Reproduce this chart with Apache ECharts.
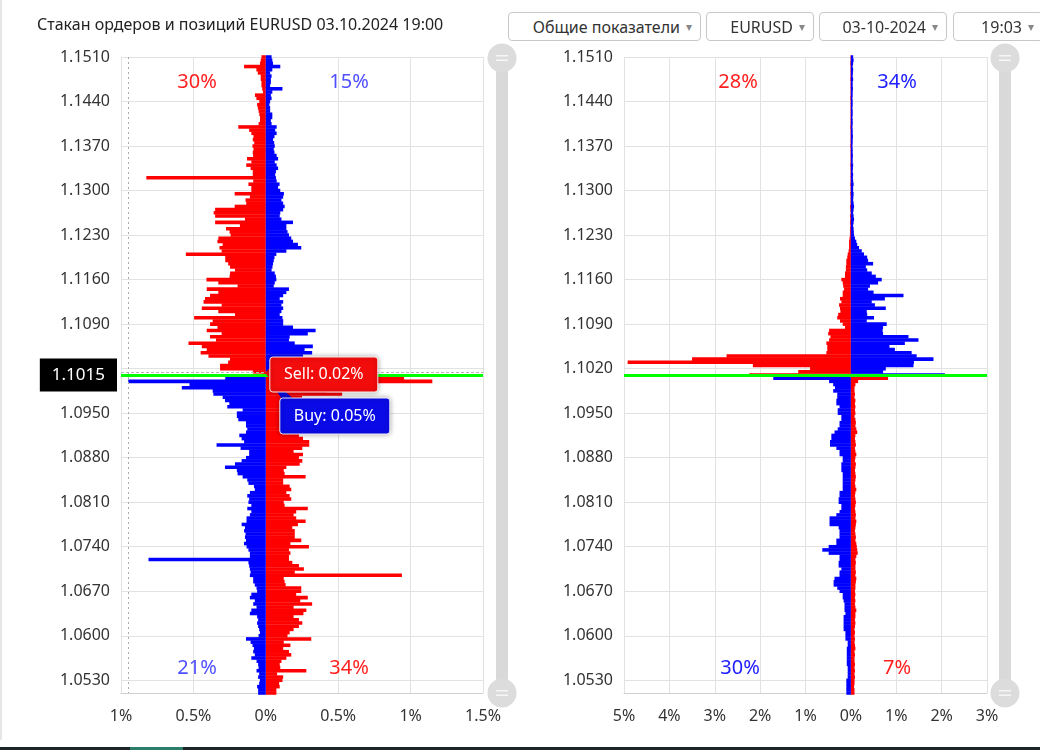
<!DOCTYPE html>
<html>
<head>
<meta charset="utf-8">
<title>Стакан ордеров и позиций EURUSD</title>
<script src="https://cdn.jsdelivr.net/npm/echarts@6/dist/echarts.min.js"></script>
<style>
  html, body { margin: 0; padding: 0; background: #fff; }
  #wrap { position: relative; width: 1040px; height: 750px; overflow: hidden; font-family: "Noto Sans", sans-serif; }
  #chart { width: 1040px; height: 750px; }
  #edge { position: absolute; left: 0; top: 0; width: 2px; height: 740px; background: #e6e6e6; }
  #strip { position: absolute; left: 0; bottom: 0; width: 1040px; height: 3px; background: #1d2626; }
  #strip i { position: absolute; left: 130px; width: 53px; height: 3px; background: #2b7d6c; }
  .sel {
    position: absolute; top: 12px; height: 29px; box-sizing: border-box;
    border: 1px solid #c8c8c8; border-radius: 4px; background: #fff;
    color: #333; font-size: 16px; line-height: 27px; white-space: nowrap;
    text-align: right; padding-right: 8px;
  }
  .sel:after { content: "\25BE"; color: #888; font-size: 12px; margin-left: 6px; vertical-align: 2px; }
</style>
</head>
<body>
<div id="wrap">
  <div id="chart"></div>
  <div id="edge"></div>
  <div class="sel" style="left:508px;width:193px;">Общие показатели</div>
  <div class="sel" style="left:706px;width:108px;">EURUSD</div>
  <div class="sel" style="left:819px;width:128px;">03-10-2024</div>
  <div class="sel" style="left:953px;width:90px;">19:03</div>
  <div id="strip"><i></i></div>
</div>
<script>
// ценовые уровни сверху вниз, шаг 0.0005
const prices = [];
for (let i = 0; i <= 200; i++) prices.push((1.1510 - i * 0.0005).toFixed(4));
const yTicks = ['1.1510', '1.1440', '1.1370', '1.1300', '1.1230', '1.1160', '1.1090', '1.1020',
  '1.0950', '1.0880', '1.0810', '1.0740', '1.0670', '1.0600', '1.0530'];
const currentPrice = '1.1015';
const lastRow = '1.1010';

// ордера, % (сверху вниз)
const ordersSell = [
  0.03, 0.035, 0.04, 0.15, 0.065, 0.055, 0.035, 0.035, 0.03, 0.03,
  0.025, 0.02, 0.075, 0.065, 0.045, 0.06, 0.055, 0.05, 0.045, 0.04,
  0.04, 0.05, 0.19, 0.115, 0.1, 0.085, 0.09, 0.08, 0.092, 0.085,
  0.09, 0.088, 0.13, 0.1, 0.135, 0.105, 0.09, 0.09, 0.825, 0.087,
  0.12, 0.1, 0.1, 0.215, 0.11, 0.14, 0.135, 0.215, 0.35, 0.36,
  0.35, 0.144, 0.35, 0.179, 0.275, 0.25, 0.243, 0.328, 0.334, 0.298,
  0.32, 0.305, 0.552, 0.28, 0.28, 0.26, 0.247, 0.213, 0.247, 0.25,
  0.41, 0.328, 0.195, 0.408, 0.328, 0.385, 0.42, 0.43, 0.305, 0.442,
  0.328, 0.213, 0.495, 0.367, 0.385, 0.334, 0.408, 0.305, 0.385, 0.344,
  0.534, 0.442, 0.408, 0.45, 0.396, 0.247, 0.26, 0.316, 0.316, 0.09,
  0.02, 0.955, 1.15, 0.3, 0.35, 0.42, 0.527, 0.25, 0.22, 0.26,
  0.2, 0.24, 0.22, 0.2, 0.25, 0.22, 0.23, 0.2, 0.25, 0.229,
  0.257, 0.3, 0.3, 0.252, 0.192, 0.257, 0.229, 0.252, 0.234, 0.142,
  0.124, 0.13, 0.275, 0.12, 0.12, 0.165, 0.176, 0.142, 0.165, 0.176,
  0.124, 0.13, 0.29, 0.21, 0.192, 0.21, 0.275, 0.222, 0.183, 0.2,
  0.2, 0.2, 0.245, 0.17, 0.298, 0.16, 0.17, 0.16, 0.16, 0.183,
  0.229, 0.263, 0.2, 0.94, 0.124, 0.13, 0.137, 0.245, 0.245, 0.21,
  0.29, 0.238, 0.32, 0.192, 0.28, 0.26, 0.192, 0.229, 0.252, 0.229,
  0.192, 0.165, 0.15, 0.314, 0.124, 0.17, 0.12, 0.16, 0.176, 0.142,
  0.108, 0.096, 0.1, 0.28, 0.078, 0.12, 0.115, 0.092, 0.096, 0.073,
  0.073
];
const ordersBuy = [
  0.04, 0.045, 0.05, 0.1, 0.045, 0.03, 0.04, 0.035, 0.035, 0.03,
  0.115, 0.045, 0.035, 0.04, 0.03, 0.025, 0.03, 0.03, 0.045, 0.045,
  0.035, 0.04, 0.075, 0.065, 0.075, 0.06, 0.05, 0.058, 0.062, 0.055,
  0.06, 0.075, 0.085, 0.062, 0.075, 0.085, 0.07, 0.065, 0.07, 0.075,
  0.095, 0.085, 0.1, 0.125, 0.12, 0.108, 0.12, 0.13, 0.12, 0.1,
  0.096, 0.108, 0.188, 0.142, 0.142, 0.15, 0.16, 0.176, 0.188, 0.222,
  0.245, 0.142, 0.073, 0.06, 0.055, 0.05, 0.046, 0.04, 0.062, 0.07,
  0.073, 0.062, 0.055, 0.16, 0.142, 0.12, 0.096, 0.12, 0.108, 0.12,
  0.108, 0.096, 0.115, 0.12, 0.12, 0.188, 0.344, 0.29, 0.165, 0.16,
  0.2, 0.325, 0.268, 0.32, 0.257, 0.2, 0.14, 0.09, 0.07, 0.02,
  0.05, 0.28, 0.95, 0.527, 0.58, 0.367, 0.362, 0.298, 0.282, 0.252,
  0.266, 0.16, 0.2, 0.2, 0.19, 0.137, 0.137, 0.128, 0.137, 0.183,
  0.167, 0.15, 0.34, 0.174, 0.115, 0.115, 0.137, 0.167, 0.213, 0.282,
  0.2, 0.195, 0.16, 0.128, 0.12, 0.082, 0.076, 0.11, 0.128, 0.115,
  0.12, 0.1, 0.128, 0.1, 0.11, 0.133, 0.133, 0.167, 0.144, 0.15,
  0.14, 0.144, 0.137, 0.151, 0.133, 0.12, 0.11, 0.11, 0.81, 0.12,
  0.115, 0.11, 0.105, 0.11, 0.087, 0.087, 0.076, 0.064, 0.06, 0.1,
  0.11, 0.076, 0.087, 0.064, 0.1, 0.11, 0.06, 0.053, 0.06, 0.053,
  0.046, 0.041, 0.05, 0.137, 0.105, 0.092, 0.082, 0.087, 0.076, 0.1,
  0.064, 0.053, 0.05, 0.064, 0.046, 0.053, 0.041, 0.046, 0.06, 0.053,
  0.053
];

// позиции, % (сверху вниз)
const positionsSell = [
  0.01, 0.01, 0.015, 0.01, 0.01, 0.01, 0.01, 0.015, 0.01, 0.01,
  0.01, 0.01, 0.01, 0.015, 0.01, 0.01, 0.01, 0.01, 0.01, 0.01,
  0.01, 0.01, 0.015, 0.01, 0.01, 0.01, 0.01, 0.01, 0.015, 0.01,
  0.01, 0.01, 0.01, 0.01, 0.015, 0.01, 0.01, 0.01, 0.01, 0.01,
  0.015, 0.01, 0.01, 0.015, 0.01, 0.01, 0.01, 0.02, 0.015, 0.01,
  0.02, 0.015, 0.02, 0.015, 0.02, 0.02, 0.02, 0.03, 0.04, 0.04,
  0.04, 0.05, 0.07, 0.08, 0.1, 0.1, 0.11, 0.11, 0.13, 0.13,
  0.21, 0.18, 0.17, 0.15, 0.18, 0.18, 0.24, 0.21, 0.26, 0.24,
  0.23, 0.28, 0.3, 0.24, 0.18, 0.13, 0.48, 0.5, 0.45, 0.48,
  0.54, 0.52, 0.52, 0.54, 2.74, 3.5, 4.92, 2.16, 0.9, 1.16,
  2.24, 0.82, 0.16, 0.1, 0.08, 0.08, 0.09, 0.08, 0.1, 0.09,
  0.1, 0.09, 0.1, 0.08, 0.1, 0.11, 0.1, 0.12, 0.14, 0.1,
  0.09, 0.1, 0.11, 0.09, 0.1, 0.12, 0.1, 0.09, 0.11, 0.1,
  0.09, 0.1, 0.11, 0.1, 0.09, 0.1, 0.12, 0.1, 0.09, 0.1,
  0.11, 0.1, 0.09, 0.1, 0.11, 0.1, 0.12, 0.11, 0.1, 0.09,
  0.1, 0.11, 0.1, 0.12, 0.13, 0.14, 0.15, 0.12, 0.1, 0.11,
  0.1, 0.1, 0.11, 0.1, 0.12, 0.11, 0.1, 0.1, 0.09, 0.1,
  0.09, 0.1, 0.09, 0.1, 0.12, 0.1, 0.1, 0.09, 0.1, 0.09,
  0.08, 0.09, 0.08, 0.09, 0.08, 0.09, 0.1, 0.08, 0.09, 0.08,
  0.08, 0.09, 0.08, 0.09, 0.08, 0.09, 0.08, 0.08, 0.07, 0.08,
  0.08
];
const positionsBuy = [
  0.05, 0.06, 0.05, 0.04, 0.05, 0.045, 0.04, 0.05, 0.04, 0.04,
  0.045, 0.04, 0.04, 0.035, 0.04, 0.04, 0.035, 0.04, 0.04, 0.035,
  0.04, 0.04, 0.035, 0.04, 0.04, 0.045, 0.04, 0.04, 0.035, 0.04,
  0.04, 0.045, 0.04, 0.04, 0.05, 0.045, 0.04, 0.05, 0.045, 0.05,
  0.06, 0.05, 0.05, 0.06, 0.055, 0.05, 0.06, 0.07, 0.06, 0.05,
  0.06, 0.07, 0.06, 0.05, 0.06, 0.065, 0.07, 0.09, 0.12, 0.14,
  0.18, 0.24, 0.29, 0.36, 0.38, 0.49, 0.33, 0.36, 0.46, 0.55,
  0.68, 0.6, 0.42, 0.38, 0.5, 1.16, 0.75, 0.46, 0.53, 0.77,
  0.35, 0.36, 0.51, 0.35, 0.79, 0.71, 0.7, 0.71, 1.27, 1.49,
  1.19, 0.85, 0.97, 1.34, 1.45, 1.82, 1.39, 1.38, 0.77, 0.71,
  2.07, 1.71, 0.48, 0.39, 0.35, 0.39, 0.3, 0.3, 0.32, 0.32,
  0.25, 0.29, 0.29, 0.21, 0.21, 0.25, 0.25, 0.29, 0.36, 0.43,
  0.43, 0.46, 0.46, 0.32, 0.25, 0.25, 0.18, 0.18, 0.21, 0.21,
  0.21, 0.18, 0.18, 0.18, 0.18, 0.18, 0.18, 0.25, 0.25, 0.27,
  0.27, 0.21, 0.21, 0.25, 0.32, 0.47, 0.47, 0.47, 0.27, 0.25,
  0.25, 0.25, 0.32, 0.32, 0.49, 0.63, 0.49, 0.25, 0.25, 0.27,
  0.27, 0.21, 0.25, 0.25, 0.36, 0.38, 0.38, 0.3, 0.25, 0.18,
  0.18, 0.16, 0.14, 0.14, 0.14, 0.12, 0.16, 0.16, 0.16, 0.16,
  0.16, 0.12, 0.12, 0.12, 0.07, 0.07, 0.09, 0.09, 0.09, 0.09,
  0.09, 0.09, 0.07, 0.07, 0.07, 0.07, 0.1, 0.1, 0.1, 0.1,
  0.1
];

// доли: [sell сверху, buy сверху, buy снизу, sell снизу]
const ordersShares = [30, 15, 21, 34];
const positionsShares = [28, 34, 30, 7];

const RED = '#ff0000';
const BLUE = '#0000ff';
const splitIdx = prices.indexOf(lastRow);

// выше цены sell влево / buy вправо, ниже — наоборот
const sided = (arr, upSign) => arr.map((v, i) => (i <= splitIdx ? upSign : -upSign) * v);

const yShown = (i, v) => yTicks.includes(v);

const xAxisOf = (gi, min, max, step) => ({
  gridIndex: gi, type: 'value', min, max, interval: step,
  axisLine: { show: true, lineStyle: { color: '#d0d0d0' } },
  axisTick: { show: false },
  axisLabel: { color: '#333', fontSize: 16, margin: 15, formatter: (v) => Math.abs(v) + '%' },
  splitLine: { lineStyle: { color: '#e2e2e2' } },
});

const yAxisOf = (gi) => ({
  gridIndex: gi, type: 'category', data: prices, inverse: true, boundaryGap: false,
  axisLine: { show: false },
  axisTick: { show: false },
  axisLabel: { interval: yShown, color: '#333', fontSize: 16, margin: 11, padding: [5, 0, 0, 0] },
  splitLine: { show: true, interval: yShown, lineStyle: { color: '#e2e2e2' } },
});

const priceLine = (withLabel) => ({
  yAxis: lastRow,
  lineStyle: { color: '#00ff00', width: 3, type: 'solid' },
  label: withLabel
    ? { show: true, position: 'start', formatter: currentPrice, color: '#fff', backgroundColor: '#000',
        fontSize: 17, padding: [8, 12, 8, 12], distance: 4 }
    : { show: false },
});

const barSeries = (gi, name, data, color, stack, markLine) => ({
  name, type: 'bar', xAxisIndex: gi, yAxisIndex: gi, stack, data,
  barWidth: '112%', itemStyle: { color }, silent: true, animation: false,
  markLine,
});

const chart = echarts.init(document.getElementById('chart'), null, { renderer: 'canvas' });

chart.setOption({
  animation: false,
  backgroundColor: '#fff',
  textStyle: { fontFamily: '"Noto Sans", sans-serif' },
  title: {
    text: 'Стакан ордеров и позиций EURUSD 03.10.2024 19:00',
    left: 32, top: 12,
    textStyle: { fontSize: 16, fontWeight: 'normal', color: '#222' },
  },
  grid: [
    { left: 121, top: 57, width: 362, height: 636 },
    { left: 624, top: 57, width: 363, height: 636 },
  ],
  xAxis: [xAxisOf(0, -1, 1.5, 0.5), xAxisOf(1, -5, 3, 1)],
  yAxis: [yAxisOf(0), yAxisOf(1)],
  series: [
    barSeries(0, 'Sell', sided(ordersSell, -1), RED, 'orders', {
      silent: true, symbol: 'none', animation: false,
      data: [
        { xAxis: -0.95, lineStyle: { color: '#aaa', type: [2, 3], width: 1 }, label: { show: false } },
        { yAxis: currentPrice, lineStyle: { color: '#b5b5b5', type: [3, 2], width: 1 }, label: { show: false } },
        priceLine(true),
      ],
    }),
    barSeries(0, 'Buy', sided(ordersBuy, 1), BLUE, 'orders'),
    barSeries(1, 'Sell', sided(positionsSell, -1), RED, 'positions', {
      silent: true, symbol: 'none', animation: false,
      data: [priceLine(false)],
    }),
    barSeries(1, 'Buy', sided(positionsBuy, 1), BLUE, 'positions'),
  ],
});

// подписи долей, ползунки, подсказка у текущей цены
const shareText = (x, y, value, color) => ({
  type: 'text', x, y, z: 50,
  style: { text: value + '%', fill: color, fontSize: 20, align: 'center', verticalAlign: 'middle',
    fontFamily: '"Noto Sans", sans-serif' },
});

const handle = (cx, cy) => ({
  type: 'group', x: cx, y: cy,
  children: [
    { type: 'circle', z: 50, shape: { r: 14.5 }, style: { fill: '#dcdcdc' } },
    { type: 'rect', z: 51, shape: { x: -6, y: -3, width: 12, height: 1.5 }, style: { fill: '#f6f6f6' } },
    { type: 'rect', z: 51, shape: { x: -6, y: 1.5, width: 12, height: 1.5 }, style: { fill: '#f6f6f6' } },
  ],
});

const slider = (cx) => [
  { type: 'rect', z: 49, shape: { x: cx - 6, y: 58, width: 12, height: 635 }, style: { fill: '#d9d9d9' } },
  handle(cx, 58),
  handle(cx, 693),
];

const tipBox = (x, y, w, h, text, fill, arrow) => ({
  type: 'group',
  children: [
    { type: 'polygon', z: 100, shape: { points: arrow }, style: { fill } },
    {
      type: 'rect', z: 101, shape: { x, y, width: w, height: h, r: 3 },
      style: { fill, stroke: 'rgba(255,255,255,0.9)', lineWidth: 1, shadowBlur: 5, shadowColor: 'rgba(0,0,0,0.35)' },
    },
    { type: 'text', z: 102, x: x + w / 2, y: y + h / 2,
      style: { text, fill: '#fff', fontSize: 16, align: 'center', verticalAlign: 'middle',
        fontFamily: '"Noto Sans", sans-serif' } },
  ],
});

const p = chart.convertToPixel({ xAxisIndex: 0, yAxisIndex: 0 }, [0, splitIdx]);
const px = p[0], py = p[1];

chart.setOption({
  graphic: [
    shareText(197, 82, ordersShares[0], '#ff1f1f'),
    shareText(349, 82, ordersShares[1], '#5050ff'),
    shareText(197, 668, ordersShares[2], '#5050ff'),
    shareText(349, 668, ordersShares[3], '#ff1f1f'),
    shareText(738, 82, positionsShares[0], '#ff1f1f'),
    shareText(897, 82, positionsShares[1], '#2020ff'),
    shareText(740, 668, positionsShares[2], '#2020ff'),
    shareText(897, 668, positionsShares[3], '#ff1f1f'),
    ...slider(502),
    ...slider(1005),
    tipBox(px + 4, py - 18, 108, 35, 'Sell: ' + ordersSell[splitIdx] + '%', '#f20c0c',
      [[px - 1, py - 2], [px + 6, py - 9], [px + 6, py + 5]]),
    tipBox(px + 14, py + 23, 110, 36, 'Buy: ' + ordersBuy[splitIdx] + '%', '#0a0ae6',
      [[px + 3, py + 3], [px + 16, py + 24], [px + 28, py + 24]]),
  ],
});
</script>
</body>
</html>
